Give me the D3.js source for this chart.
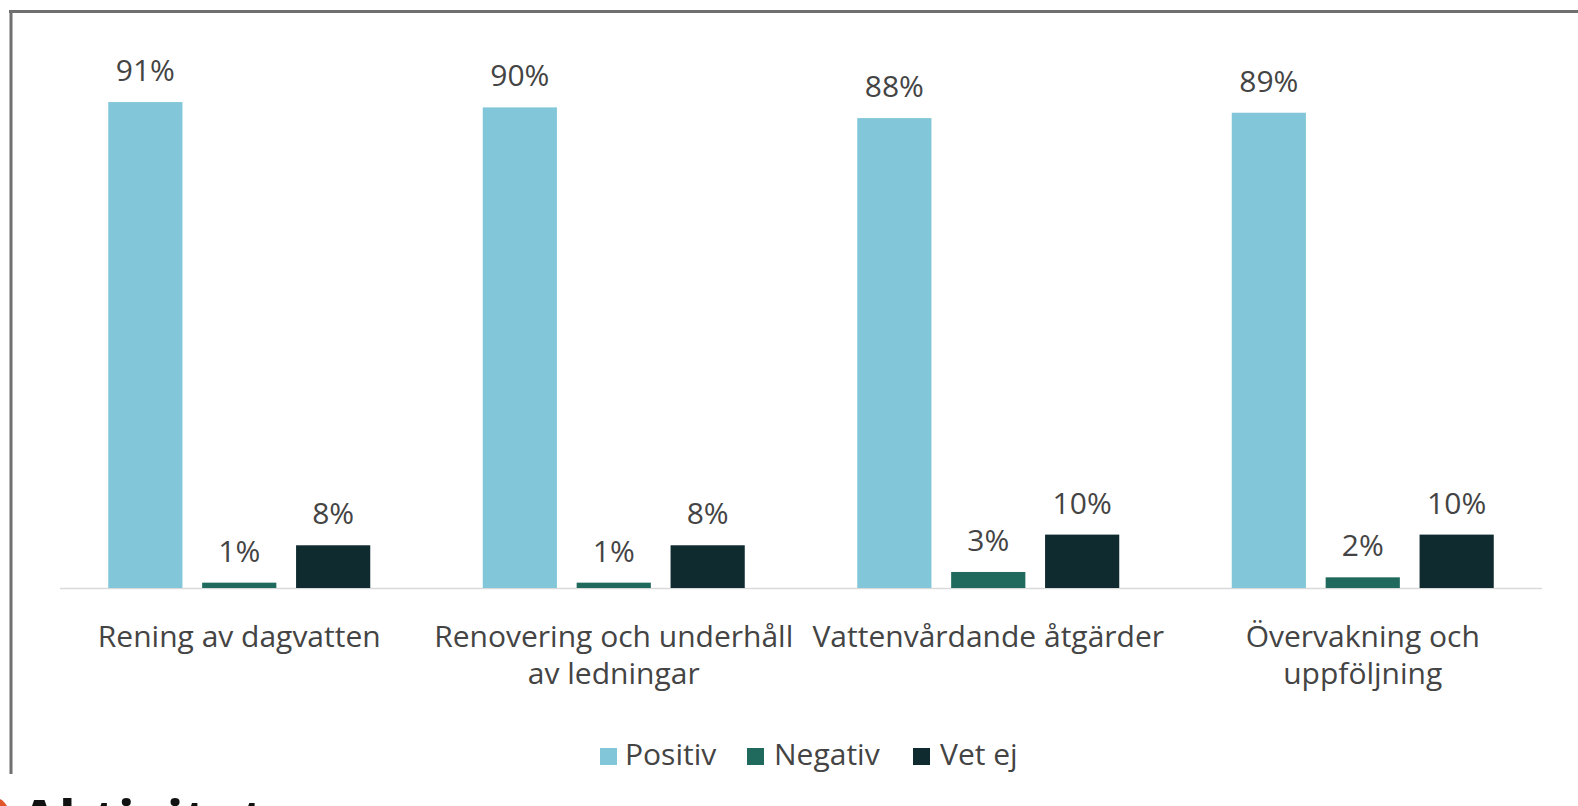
<!DOCTYPE html>
<html>
<head>
<meta charset="utf-8">
<script src="https://cdn.jsdelivr.net/npm/d3@7"></script>
<style>
  body { margin: 0; background: #fff; }
  text { font-family: "Open Sans", "Noto Sans", sans-serif; fill: #444; }
</style>
</head>
<body>
<script>
// data
let categories = ["Rening av dagvatten", "Renovering och underhåll\nav ledningar",
                  "Vattenvårdande åtgärder", "Övervakning och\nuppföljning"];
let series = ["Positiv", "Negativ", "Vet ej"];
let positiv = [0.91, 0.90, 0.88, 0.89];
let negativ = [0.01, 0.01, 0.03, 0.02];
let vetEj = [0.08, 0.08, 0.10, 0.10];
let colors = ["#82c7d9", "#206a5d", "#0f2b30"];

let width = 1578;
let height = 806;
let svg = d3.select("body").append("svg")
            .attr("width", width)
            .attr("height", height);

// frame of the screenshot
svg.append("line").attr("x1", 9).attr("x2", width).attr("y1", 11.5).attr("y2", 11.5)
   .attr("stroke", "#707070").attr("stroke-width", 3);
svg.append("line").attr("x1", 11).attr("x2", 11).attr("y1", 10).attr("y2", 774)
   .attr("stroke", "#707070").attr("stroke-width", 3);

let x0 = d3.scaleBand().domain(categories).range([52, 1550]);
let x1 = d3.scaleBand().domain(series)
           .range([x0.bandwidth() / 2 - 131, x0.bandwidth() / 2 + 131])
           .paddingInner(0.21);
let y = d3.scaleLinear().domain([0, 1]).range([588, 54]);

let rows = [];
categories.forEach(function(c, i) {
  [positiv, negativ, vetEj].forEach(function(vals, j) {
    rows.push({cat: c, s: series[j], v: vals[i], color: colors[j]});
  });
});

// baseline
svg.append("line").attr("x1", 60).attr("x2", 1542)
   .attr("y1", y(0) + 0.5).attr("y2", y(0) + 0.5)
   .attr("stroke", "#d9d9d9").attr("stroke-width", 1.5);

let bars = svg.append("g").selectAll("rect")
              .data(rows)
              .enter().append("rect")
              .attr("x", d => x0(d.cat) + x1(d.s))
              .attr("width", x1.bandwidth())
              .attr("y", d => y(d.v))
              .attr("height", d => y(0) - y(d.v))
              .attr("fill", d => d.color);

svg.append("g").selectAll("text")
   .data(rows)
   .enter().append("text")
   .attr("x", d => x0(d.cat) + x1(d.s) + x1.bandwidth() / 2)
   .attr("y", d => y(d.v) - 21)
   .attr("text-anchor", "middle")
   .attr("font-size", 30)
   .text(d => Math.round(d.v * 100) + "%");

// category labels
let catLabels = svg.append("g").selectAll("text")
                   .data(categories)
                   .enter().append("text")
                   .attr("text-anchor", "middle")
                   .attr("font-size", 30)
                   .attr("x", d => x0(d) + x0.bandwidth() / 2)
                   .attr("y", 647);
catLabels.each(function(d) {
  let lines = d.split("\n");
  let t = d3.select(this);
  lines.forEach(function(l, i) {
    t.append("tspan")
     .attr("x", x0(d) + x0.bandwidth() / 2)
     .attr("dy", i == 0 ? 0 : 37)
     .text(l);
  });
});

// legend
let legendX = [600, 747, 913];
let legend = svg.append("g").selectAll("g")
                .data(series)
                .enter().append("g")
                .attr("transform", (d, i) => "translate(" + legendX[i] + ",765)");
legend.append("rect").attr("x", 0).attr("y", -17).attr("width", 17).attr("height", 17)
      .attr("fill", (d, i) => colors[i]);
legend.append("text").attr("x", (d, i) => i == 0 ? 25 : 27).attr("y", 0)
      .attr("font-size", 30).text(d => d);

// cut-off heading below the frame
svg.append("circle").attr("cx", -8).attr("cy", 814).attr("r", 17).attr("fill", "#e0552a");
svg.append("text").attr("x", 20).attr("y", 840)
   .attr("font-size", 56).attr("font-weight", "bold")
   .style("fill", "#111")
   .text("Aktiviteter");
</script>
</body>
</html>
